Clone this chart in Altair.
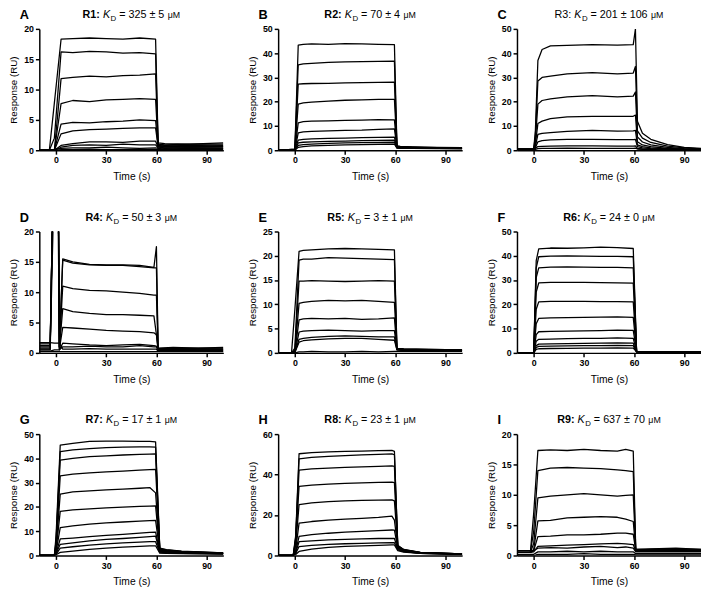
import altair as alt
import pandas as pd

X_TICKS = [0, 30, 60, 90]

# ---------------- Panel A (R1) ----------------
A_T = [-10, -4, -1, 3, 10, 20, 30, 40, 50, 59.5, 61, 65, 80, 100]
A_CURVES = [
    [0, 0, 7.8, 18.3, 18.4, 18.5, 18.4, 18.3, 18.5, 18.3, 1.2, 1.1, 1.0, 1.0],
    [0, 0, 2.0, 16.2, 16.1, 16.3, 16.2, 16.0, 16.1, 15.9, 1.0, 0.9, 1.0, 1.2],
    [0, 0, 0, 11.8, 12.0, 12.2, 12.1, 12.3, 12.4, 12.6, 0.9, 0.8, 0.9, 0.8],
    [0, 0, 0, 7.7, 8.2, 8.0, 8.3, 8.4, 8.5, 8.4, 0.8, 0.7, 0.8, 0.7],
    [0, 0, 0, 4.3, 4.6, 4.5, 4.7, 4.8, 5.0, 4.9, 0.7, 0.6, 0.6, 0.6],
    [0, 0, 0, 2.7, 3.2, 3.4, 3.5, 3.6, 3.7, 3.7, 0.6, 0.5, 0.5, 0.5],
    [0, 0, 0, 0.8, 1.1, 1.4, 1.4, 1.3, 1.5, 1.5, 0.5, 0.4, 0.4, 0.3],
    [0, 0, 0, 0.5, 0.8, 0.9, 0.8, 1.0, 0.9, 0.9, 0.4, 0.3, 0.4, 0.3],
    [0.1, 0.1, 0.1, 0.3, 0.4, 0.4, 0.5, 0.4, 0.3, 0.4, 0.3, 0.2, 0.3, 0.2],
    [0, 0, 0, 0.1, 0.1, 0.2, 0.1, 0.1, 0.2, 0.1, 0.1, 0.1, 0.1, 0.1],
]

# ---------------- Panel B (R2) ----------------
B_T = [-10, 0, 2, 5, 10, 20, 30, 40, 50, 59.5, 61, 63, 70, 85, 100]
B_CURVES = [
    [0, 0.5, 43.3, 43.6, 43.8, 43.6, 43.9, 43.8, 43.6, 43.5, 1.8, 1.6, 1.4, 1.2, 1.1],
    [0, 0.5, 35.2, 35.6, 35.8, 36.2, 36.4, 36.5, 36.6, 36.7, 1.7, 1.5, 1.3, 1.1, 1.0],
    [0, 0.4, 27.2, 27.4, 27.5, 27.6, 27.8, 27.9, 28.0, 28.1, 1.6, 1.4, 1.2, 1.1, 1.0],
    [0, 0.3, 19.0, 19.5, 19.8, 20.2, 20.6, 20.8, 21.0, 21.0, 1.5, 1.3, 1.2, 1.0, 0.9],
    [0, 0.2, 11.3, 11.8, 12.0, 12.1, 12.3, 12.4, 12.6, 12.5, 1.4, 1.2, 1.1, 1.0, 0.9],
    [0, 0.1, 7.2, 7.6, 7.8, 8.0, 8.2, 8.3, 8.6, 8.8, 1.3, 1.2, 1.0, 0.9, 0.8],
    [0, 0.1, 4.2, 4.5, 4.7, 4.9, 5.0, 5.2, 5.3, 5.4, 1.2, 1.1, 1.0, 0.9, 0.8],
    [0, 0.1, 3.0, 3.3, 3.5, 3.7, 3.8, 4.0, 4.1, 4.2, 1.1, 1.0, 0.9, 0.8, 0.7],
    [0, 0, 2.0, 2.3, 2.5, 2.8, 3.0, 3.1, 3.2, 3.3, 1.0, 0.9, 0.8, 0.8, 0.7],
    [0, 0, 1.2, 1.5, 1.8, 2.0, 2.2, 2.3, 2.4, 2.5, 0.9, 0.8, 0.8, 0.7, 0.7],
]

# ---------------- Panel C (R3) ----------------
C_T = [-10, 0, 1, 2.5, 5, 10, 20, 35, 50, 59.5, 60.8, 62, 65, 70, 80, 90, 100]
C_CURVES = [
    [0.5, 0.5, 8, 37, 41.5, 43, 43.2, 43.5, 43.3, 43.5, 50, 12, 7, 4.5, 2.3, 1.2, 0.8],
    [0.5, 0.5, 6, 28.5, 30, 30.5, 31.5, 32, 31.5, 31.8, 34.5, 8, 5, 3.2, 1.7, 1.0, 0.6],
    [0.5, 0.5, 4, 19, 20.5, 21.2, 22, 22.5, 22, 22.3, 24, 5.5, 3.4, 2.2, 1.2, 0.7, 0.5],
    [0.5, 0.5, 2.5, 11, 12, 13, 13.8, 14, 14, 14, 14.5, 3.5, 2.2, 1.5, 0.8, 0.5, 0.4],
    [0.5, 0.5, 1.5, 6.5, 7, 7.3, 7.8, 8.2, 7.9, 8, 8.2, 2.2, 1.5, 1.0, 0.6, 0.4, 0.3],
    [0.5, 0.5, 1.0, 3.5, 4.0, 4.3, 4.5, 4.5, 4.4, 4.4, 4.5, 1.5, 1.0, 0.7, 0.5, 0.3, 0.3],
    [0.5, 0.5, 0.7, 1.5, 1.6, 1.7, 1.8, 1.8, 1.7, 1.7, 1.8, 0.8, 0.6, 0.5, 0.4, 0.3, 0.3],
    [0.3, 0.3, 0.4, 0.7, 0.8, 0.8, 0.9, 0.8, 0.8, 0.8, 0.9, 0.5, 0.4, 0.3, 0.3, 0.2, 0.2],
]

# ---------------- Panel D (R4) ----------------
D_T = [-10, -3.5, -1, 1, 2, 4, 10, 20, 30, 40, 50, 58.5, 60, 61, 70, 85, 100]
D_CURVES = [
    [1.0, 1.0, 40, 40, 1.0, 15.5, 15.0, 14.6, 14.5, 14.5, 14.4, 14.1, 17.5, 0.8, 0.9, 0.8, 0.9],
    [1.2, 1.2, 40, 40, 1.0, 15.3, 14.8, 14.5, 14.4, 14.4, 14.2, 14.0, 14.0, 0.7, 0.8, 0.8, 0.8],
    [1.5, 1.5, 40, 40, 1.0, 11.0, 10.6, 10.3, 10.2, 10.0, 9.8, 9.5, 9.5, 0.6, 0.7, 0.7, 0.6],
    [0.8, 0.8, 40, 40, 0.8, 7.3, 6.8, 6.5, 6.3, 6.3, 6.2, 6.1, 3.0, 0.6, 0.6, 0.6, 0.6],
    [0.6, 0.6, 40, 40, 0.6, 4.2, 4.1, 3.9, 3.7, 3.6, 3.5, 3.3, 3.0, 0.5, 0.6, 0.5, 0.5],
    [0.5, 0.5, 30, 30, 0.5, 1.6, 1.5, 1.3, 1.2, 1.3, 1.4, 1.2, 1.1, 0.5, 0.5, 0.5, 0.4],
    [0.3, 0.3, 0.5, 0.5, 0.5, 1.0, 1.0, 1.1, 1.0, 1.0, 1.2, 1.0, 1.0, 0.4, 0.4, 0.4, 0.3],
    [1.7, 1.7, 1.6, 1.6, 1.6, 0.6, 0.6, 0.7, 0.6, 0.6, 0.6, 0.6, 0.6, 0.3, 0.3, 0.3, 0.3],
    [0.2, 0.2, 0.2, 0.2, 0.2, 0.2, 0.2, 0.2, 0.2, 0.2, 0.2, 0.2, 0.2, 0.2, 0.2, 0.2, 0.2],
]

# ---------------- Panel E (R5) ----------------
E_T = [-10, -2, 0, 2.5, 5, 10, 20, 30, 40, 50, 59.5, 61, 65, 80, 100]
E_CURVES = [
    [0, 0, 9, 20.9, 21.1, 21.2, 21.4, 21.5, 21.4, 21.3, 21.2, 0.9, 0.8, 0.7, 0.6],
    [0, 0, 1, 19.1, 19.3, 19.3, 19.6, 19.5, 19.4, 19.3, 19.2, 0.9, 0.8, 0.7, 0.6],
    [0, 0, 0.5, 14.8, 14.8, 14.9, 14.8, 14.7, 14.8, 14.9, 14.8, 0.8, 0.7, 0.6, 0.6],
    [0, 0, 0.3, 10.2, 10.4, 10.6, 10.8, 10.7, 10.8, 10.6, 10.4, 0.8, 0.7, 0.6, 0.5],
    [0, 0, 0.2, 6.8, 7.0, 7.1, 7.0, 7.1, 6.9, 7.0, 7.2, 0.7, 0.6, 0.6, 0.5],
    [0, 0, 0.1, 4.3, 4.5, 4.6, 4.7, 4.6, 4.5, 4.6, 4.6, 0.7, 0.6, 0.5, 0.5],
    [0, 0, 0.1, 2.8, 3.0, 3.2, 3.4, 3.5, 3.4, 3.3, 3.3, 0.6, 0.5, 0.5, 0.4],
    [0, 0, 0.1, 2.2, 2.5, 2.7, 2.9, 3.0, 3.0, 2.8, 2.6, 0.6, 0.5, 0.4, 0.4],
    [0, 0, 0, 0.2, 0.2, 0.3, 0.2, 0.2, 0.3, 0.2, 0.3, 0.3, 0.3, 0.3, 0.3],
]

# ---------------- Panel F (R6) ----------------
F_T = [-10, 0, 1.5, 3, 10, 20, 30, 40, 50, 59.5, 61.5, 70, 100]
F_CURVES = [
    [0, 0, 38, 42.8, 43.2, 43.1, 43.3, 43.6, 43.4, 43.0, 0.6, 0.5, 0.5],
    [0, 0, 35, 39.6, 39.9, 40.0, 39.9, 39.8, 39.8, 39.6, 0.6, 0.5, 0.5],
    [0, 0, 31, 35.0, 35.3, 35.4, 35.3, 35.2, 35.2, 35.0, 0.6, 0.5, 0.5],
    [0, 0, 25, 28.8, 29.0, 29.0, 29.0, 28.9, 28.8, 28.7, 0.6, 0.5, 0.5],
    [0, 0, 18, 21.0, 21.2, 21.2, 21.2, 21.1, 21.1, 21.0, 0.5, 0.5, 0.4],
    [0, 0, 12, 14.2, 14.4, 14.5, 14.6, 14.7, 14.8, 14.6, 0.5, 0.5, 0.4],
    [0, 0, 7.5, 8.7, 8.9, 9.0, 9.1, 9.2, 9.4, 9.3, 0.5, 0.4, 0.4],
    [0, 0, 4.8, 5.6, 5.7, 5.9, 6.0, 6.0, 6.2, 6.0, 0.5, 0.4, 0.4],
    [0, 0, 3.0, 3.6, 3.7, 3.8, 3.9, 4.0, 4.1, 4.0, 0.4, 0.4, 0.4],
    [0, 0, 2.2, 2.7, 2.8, 2.9, 3.0, 3.0, 3.1, 3.0, 0.4, 0.4, 0.3],
    [0, 0, 1.4, 1.7, 1.8, 1.9, 2.0, 2.0, 2.1, 2.0, 0.4, 0.3, 0.3],
]

# ---------------- Panel G (R7) ----------------
G_T = [-10, -1, 0, 2.5, 10, 20, 30, 40, 50, 56, 59.5, 62, 66, 75, 100]
G_CURVES = [
    [0, 0, 8, 45.5, 46.2, 47.0, 47.1, 47.1, 47.0, 47.0, 46.8, 3.0, 2.4, 1.8, 1.1],
    [0, 0, 6, 42.8, 43.5, 44.0, 44.4, 44.6, 44.7, 44.7, 44.6, 2.8, 2.3, 1.7, 1.1],
    [0, 0, 5, 39.3, 40.0, 40.7, 41.0, 41.4, 41.7, 41.8, 41.9, 2.6, 2.1, 1.6, 1.0],
    [0, 0, 4, 32.8, 33.5, 34.0, 34.4, 34.8, 35.2, 35.4, 35.5, 2.4, 2.0, 1.5, 1.0],
    [0, 0, 3, 25.3, 26.2, 26.6, 27.0, 27.3, 27.7, 28.0, 25.8, 2.2, 1.8, 1.4, 1.0],
    [0, 0, 2, 18.2, 18.8, 19.2, 19.6, 19.9, 20.2, 20.3, 20.4, 2.0, 1.7, 1.3, 0.9],
    [0, 0, 1.5, 11.5, 12.2, 12.9, 13.4, 13.8, 14.2, 14.4, 14.5, 1.8, 1.5, 1.2, 0.9],
    [0, 0, 1, 6.8, 7.2, 7.8, 8.3, 8.7, 9.2, 9.5, 9.6, 1.6, 1.4, 1.1, 0.8],
    [0, 0, 0.8, 4.6, 5.2, 6.0, 6.6, 7.0, 7.5, 7.8, 8.0, 1.4, 1.2, 1.0, 0.8],
    [0, 0, 0.5, 3.0, 3.6, 4.3, 4.8, 5.2, 5.5, 5.7, 5.7, 1.2, 1.0, 0.9, 0.7],
    [0, 0, 0.3, 1.3, 1.8, 2.5, 3.0, 3.4, 3.8, 4.0, 4.0, 1.0, 0.9, 0.8, 0.6],
]

# ---------------- Panel H (R8) ----------------
H_T = [-10, -1, 0.5, 2.5, 10, 20, 30, 40, 50, 58, 59.5, 61.5, 65, 75, 100]
H_CURVES = [
    [0, 0, 10, 50.3, 50.8, 51.2, 51.5, 51.6, 51.8, 52.0, 51.5, 5.0, 3.0, 1.5, 0.8],
    [0, 0, 9, 47.8, 48.5, 49.0, 49.4, 49.7, 50.0, 50.2, 49.8, 4.8, 2.9, 1.5, 0.8],
    [0, 0, 8, 42.2, 42.8, 43.2, 43.6, 43.8, 44.0, 44.3, 44.0, 4.6, 2.8, 1.4, 0.8],
    [0, 0, 7, 34.2, 34.8, 35.3, 35.7, 35.9, 36.1, 36.3, 36.0, 4.4, 2.7, 1.4, 0.8],
    [0, 0, 5, 25.2, 26.0, 26.6, 27.0, 27.2, 27.4, 27.5, 27.0, 4.2, 2.6, 1.3, 0.7],
    [0, 0, 3, 16.0, 16.8, 17.5, 18.0, 18.4, 18.8, 19.5, 17.5, 4.0, 2.5, 1.3, 0.7],
    [0, 0, 2, 9.5, 10.3, 11.0, 11.5, 11.9, 12.3, 12.6, 12.5, 3.6, 2.3, 1.2, 0.7],
    [0, 0, 1.5, 6.8, 7.2, 7.7, 8.0, 8.2, 8.4, 8.5, 8.4, 3.2, 2.1, 1.1, 0.7],
    [0, 0, 1, 4.4, 5.0, 5.5, 5.8, 6.0, 6.2, 6.3, 6.3, 2.8, 1.9, 1.0, 0.6],
    [0, 0, 0.5, 2.0, 3.2, 4.0, 4.5, 4.8, 5.0, 5.2, 5.2, 2.4, 1.7, 1.0, 0.6],
]

# ---------------- Panel I (R9) ----------------
I_T = [-10, -2, 0, 2.5, 10, 20, 30, 40, 50, 55, 59.5, 61, 70, 85, 100]
I_CURVES = [
    [0.5, 0.5, 7, 17.3, 17.4, 17.3, 17.5, 17.3, 17.2, 17.5, 17.2, 1.0, 1.1, 1.2, 1.0],
    [0.5, 0.5, 4, 14.0, 14.4, 14.5, 14.4, 14.3, 14.1, 14.0, 13.8, 1.0, 1.0, 1.1, 1.0],
    [0.5, 0.5, 2, 9.5, 9.8, 10.0, 10.2, 10.0, 9.8, 9.9, 10.0, 0.9, 1.0, 1.0, 0.9],
    [0.5, 0.5, 1, 5.7, 5.8, 6.2, 6.3, 6.4, 6.3, 6.0, 5.6, 0.9, 0.9, 0.9, 0.8],
    [0.5, 0.5, 0.8, 3.1, 3.2, 3.4, 3.4, 3.5, 3.7, 3.7, 3.5, 0.8, 0.8, 0.8, 0.8],
    [0.5, 0.5, 0.6, 1.5, 1.6, 1.7, 1.8, 1.9, 2.0, 1.9, 1.8, 0.7, 0.7, 0.7, 0.7],
    [0.8, 0.8, 0.8, 1.2, 1.3, 1.2, 1.4, 1.5, 1.3, 1.4, 1.2, 0.6, 0.6, 0.6, 0.6],
    [0.2, 0.2, 0.2, 0.6, 0.6, 0.7, 0.6, 0.7, 0.6, 0.6, 0.6, 0.3, 0.3, 0.3, 0.3],
    [0, 0, 0, 0.2, 0.2, 0.2, 0.3, 0.2, 0.2, 0.2, 0.2, 0.1, 0.1, 0.1, 0.1],
]

# letter, receptor label, KD text, time grid, curves, y max, y ticks, label weight
PANELS = [
    ("A", "R1:", "= 325 ± 5", A_T, A_CURVES, 20, [0, 5, 10, 15, 20], "bold"),
    ("B", "R2:", "= 70 ± 4", B_T, B_CURVES, 50, [0, 10, 20, 30, 40, 50], "bold"),
    ("C", "R3:", "= 201 ± 106", C_T, C_CURVES, 50, [0, 10, 20, 30, 40, 50], "normal"),
    ("D", "R4:", "= 50 ± 3", D_T, D_CURVES, 20, [0, 5, 10, 15, 20], "bold"),
    ("E", "R5:", "= 3 ± 1", E_T, E_CURVES, 25, [0, 5, 10, 15, 20, 25], "bold"),
    ("F", "R6:", "= 24 ± 0", F_T, F_CURVES, 50, [0, 10, 20, 30, 40, 50], "bold"),
    ("G", "R7:", "= 17 ± 1", G_T, G_CURVES, 50, [0, 10, 20, 30, 40, 50], "bold"),
    ("H", "R8:", "= 23 ± 1", H_T, H_CURVES, 60, [0, 20, 40, 60], "bold"),
    ("I", "R9:", "= 637 ± 70", I_T, I_CURVES, 20, [0, 5, 10, 15, 20], "bold"),
]

PW, PH = 188, 124
FONT = "Liberation Sans"

REG = {" ": 278, ":": 278, "=": 584, "±": 584, "K": 667, "D": 722, "M": 833,
       "μ": 576, "R": 722}
BOLD = {" ": 278, ":": 333, "R": 722}


def text_width(s, size, bold=False):
    tot = 0
    for ch in s:
        if ch.isdigit():
            tot += 556
        elif bold and ch in BOLD:
            tot += BOLD[ch]
        else:
            tot += REG.get(ch, 556)
    return tot * size / 1000.0


ONE = pd.DataFrame({"k": [0]})


def txt(text, x, y, size, weight="normal", style="normal"):
    return alt.Chart(ONE).mark_text(
        text=text, align="left", baseline="alphabetic", font=FONT,
        fontSize=size, fontWeight=weight, fontStyle=style, color="black"
    ).encode(x=alt.value(x), y=alt.value(y))


def make_panel(letter, rlab, kd, T, curves, ymax, yticks, rweight):
    rows = []
    for ci, cv in enumerate(curves):
        for t, r in zip(T, cv):
            rows.append({"t": t, "r": r, "c": ci})
    df = pd.DataFrame(rows)
    lines = alt.Chart(df).mark_line(
        color="black", strokeWidth=1.3, clip=True, strokeJoin="round"
    ).encode(
        x=alt.X("t:Q", scale=alt.Scale(domain=[-10, 100], nice=False, zero=False),
                axis=alt.Axis(values=X_TICKS, title="Time (s)")),
        y=alt.Y("r:Q", scale=alt.Scale(domain=[0, ymax], nice=False, zero=True),
                axis=alt.Axis(values=yticks, title="Response (RU)")),
        detail="c:N",
    )
    fs = 11
    sp = text_width(" ", fs)
    w1 = text_width(rlab, fs, rweight == "bold")
    wk = text_width("K", fs) + 0.5
    wd = text_width("D", 8)
    wkd = text_width(kd, fs)
    wmu = text_width("μM", 9)
    total = w1 + sp + wk + wd + sp + wkd + sp + wmu
    x0 = PW / 2 - total / 2
    ty = -11
    parts = [
        txt(letter, -20, ty + 1, 13, "bold"),
        txt(rlab, x0, ty, fs, rweight),
        txt("K", x0 + w1 + sp, ty, fs, "normal", "italic"),
        txt("D", x0 + w1 + sp + wk, ty + 3, 8),
        txt(kd, x0 + w1 + sp + wk + wd + sp, ty, fs),
        txt("μM", x0 + w1 + sp + wk + wd + sp + wkd + sp, ty, 9),
    ]
    return alt.layer(lines, *parts).properties(width=PW, height=PH)


panels = [make_panel(*p) for p in PANELS]
rows = [alt.hconcat(*panels[i:i + 3], spacing=24) for i in range(0, 9, 3)]
chart = alt.vconcat(*rows, spacing=30).configure_view(stroke=None).configure_axis(
    domainColor="black", domainWidth=1.5, tickColor="black", tickWidth=1.5,
    tickSize=4, labelFont=FONT, labelFontWeight="bold", labelFontSize=9,
    labelColor="black", labelPadding=2, titleFont=FONT, titleFontWeight="normal",
    titleColor="black", grid=False
).configure_axisX(titleFontSize=10.5, titlePadding=7).configure_axisY(
    titleFontSize=10, titlePadding=5
).properties(background="white",
             padding={"top": -5, "left": 0, "right": 0, "bottom": 0})

chart.save("out.html", embed_options={"renderer": "svg", "actions": False})
